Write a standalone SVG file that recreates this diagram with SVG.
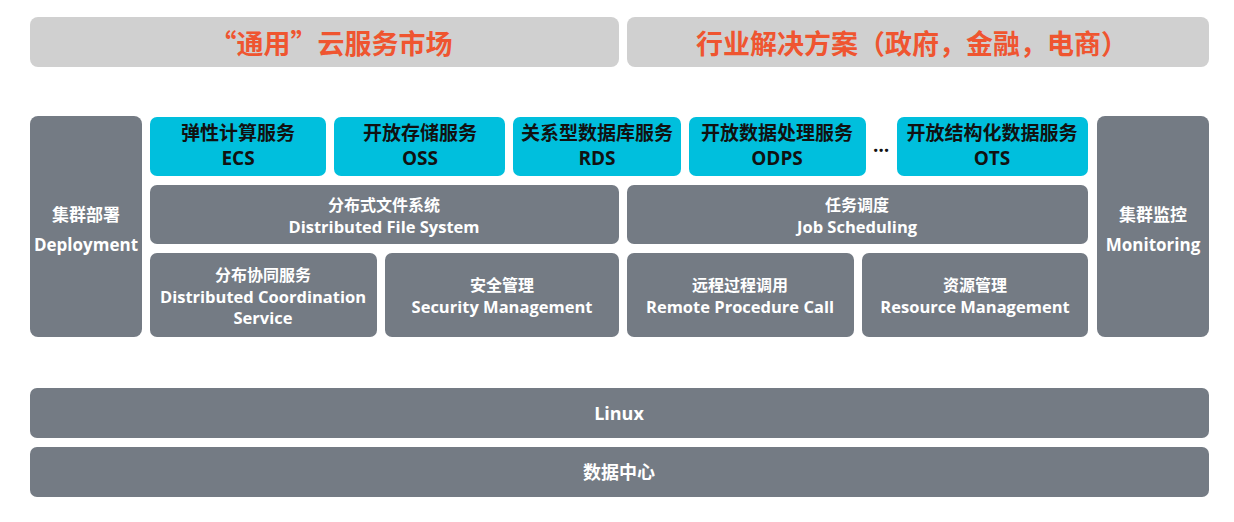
<svg xmlns="http://www.w3.org/2000/svg" width="1234" height="522" viewBox="0 0 1234 522">
<style>
.top{fill:#d0d0d0}
.g{fill:#747b84}
.c{fill:#00bfdd}
text{font-family:"Open Sans","Noto Sans CJK SC",sans-serif;font-weight:700;text-anchor:middle;dominant-baseline:central}
.tt{fill:#ef5530;font-size:27px;font-family:"Noto Sans CJK SC",sans-serif}
.ct{fill:#111;font-size:19px}
.gt{fill:#fff;font-size:16px}
.ge{font-size:16.5px}
.st{fill:#fff;font-size:17px}
.bt{fill:#fff;font-size:18px}
</style>
<rect width="1234" height="522" fill="#fff"/>
<g id="market"><rect class="top" x="30" y="17" width="589" height="50" rx="8"/><text class="tt" x="331" y="42">“通用”云服务市场</text></g>
<g id="industry"><rect class="top" x="627" y="17" width="582" height="50" rx="8"/><text class="tt" x="912" y="42">行业解决方案（政府，金融，电商）</text></g>

<g id="deployment"><rect class="g" x="30" y="116" width="112" height="221" rx="8"/><text class="st" x="86" y="214">集群部署<tspan x="86" y="244">Deployment</tspan></text></g>
<g id="monitoring"><rect class="g" x="1097" y="116" width="112" height="221" rx="8"/><text class="st" x="1153" y="214">集群监控<tspan x="1153" y="244">Monitoring</tspan></text></g>

<g id="ecs"><rect class="c" x="150" y="117" width="176" height="59" rx="7"/><text class="ct" x="238" y="133">弹性计算服务<tspan x="238" y="158">ECS</tspan></text></g>
<g id="oss"><rect class="c" x="334" y="117" width="171" height="59" rx="7"/><text class="ct" x="420" y="133">开放存储服务<tspan x="420" y="158">OSS</tspan></text></g>
<g id="rds"><rect class="c" x="513" y="117" width="168" height="59" rx="7"/><text class="ct" x="597" y="133">关系型数据库服务<tspan x="597" y="158">RDS</tspan></text></g>
<g id="odps"><rect class="c" x="689" y="117" width="177" height="59" rx="7"/><text class="ct" x="777" y="133">开放数据处理服务<tspan x="777" y="158">ODPS</tspan></text></g>
<g id="more"><text class="ct" x="881" y="145">…</text></g>
<g id="ots"><rect class="c" x="897" y="117" width="191" height="59" rx="7"/><text class="ct" x="992" y="133">开放结构化数据服务<tspan x="992" y="158">OTS</tspan></text></g>

<g id="dfs"><rect class="g" x="150" y="185" width="469" height="59" rx="7"/><text class="gt" x="384" y="205">分布式文件系统<tspan class="ge" x="384" y="226">Distributed File System</tspan></text></g>
<g id="job"><rect class="g" x="627" y="185" width="461" height="59" rx="7"/><text class="gt" x="857" y="205">任务调度<tspan class="ge" x="857" y="226">Job Scheduling</tspan></text></g>

<g id="coord"><rect class="g" x="150" y="253" width="227" height="84" rx="7"/><text class="gt" x="263" y="275">分布协同服务<tspan class="ge" x="263" y="296">Distributed Coordination</tspan><tspan class="ge" x="263" y="317">Service</tspan></text></g>
<g id="security"><rect class="g" x="385" y="253" width="234" height="84" rx="7"/><text class="gt" x="502" y="285">安全管理<tspan class="ge" x="502" y="306">Security Management</tspan></text></g>
<g id="rpc"><rect class="g" x="627" y="253" width="227" height="84" rx="7"/><text class="gt" x="740" y="285">远程过程调用<tspan class="ge" x="740" y="306">Remote Procedure Call</tspan></text></g>
<g id="resource"><rect class="g" x="862" y="253" width="226" height="84" rx="7"/><text class="gt" x="975" y="285">资源管理<tspan class="ge" x="975" y="306">Resource Management</tspan></text></g>

<g id="linux"><rect class="g" x="30" y="388" width="1179" height="50" rx="7"/><text class="bt" x="619" y="413">Linux</text></g>
<g id="datacenter"><rect class="g" x="30" y="447" width="1179" height="50" rx="7"/><text class="bt" x="619" y="472">数据中心</text></g>
<g id="connectors"></g>
</svg>
